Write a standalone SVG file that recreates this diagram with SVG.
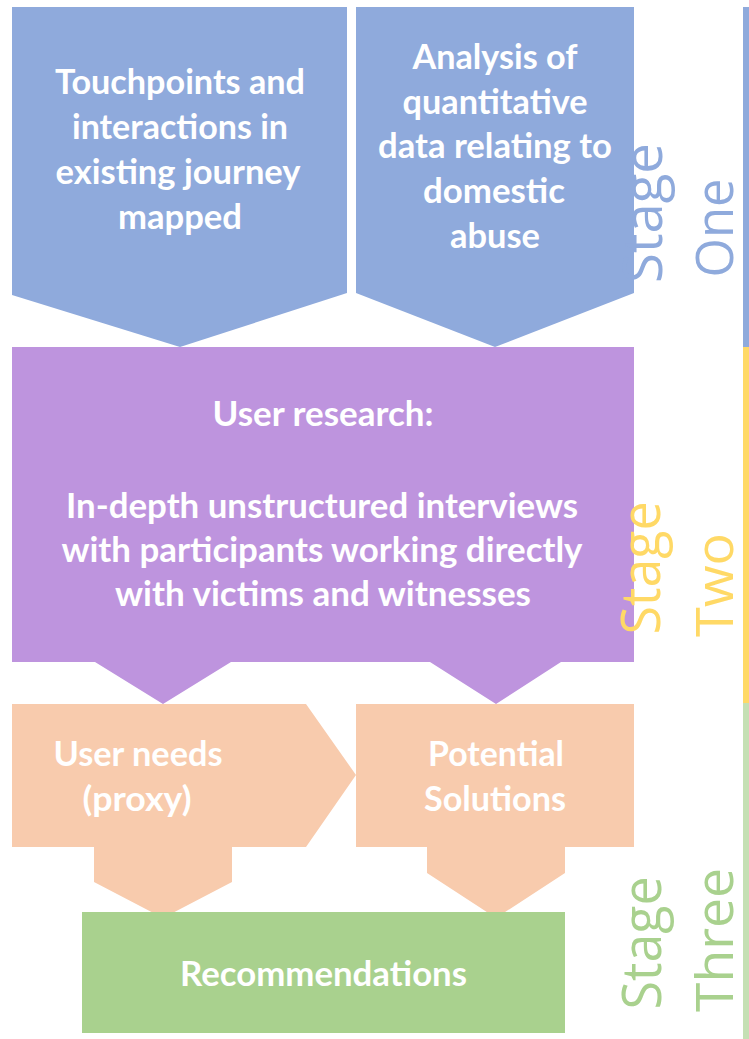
<svg xmlns="http://www.w3.org/2000/svg" width="749" height="1039" viewBox="0 0 749 1039">
  <style>
    .lbl { font-family: Lato, "Open Sans", "Liberation Sans", sans-serif; font-weight: bold; font-size: 35px; fill: #FFFFFF; text-anchor: middle; }
    .stage { font-family: "Open Sans", "DejaVu Sans", sans-serif; font-size: 55px; text-anchor: middle; }
    .stage-num { font-family: "Open Sans", "DejaVu Sans", sans-serif; font-size: 51px; text-anchor: middle; }
    .blue { fill: #8FAADC; }
    .purple { fill: #BE94DE; }
    .orange { fill: #F8CBAD; }
    .green { fill: #A9D18E; }
    .yellow { fill: #FFD966; }
    .green-light { fill: #C5E0B4; }
  </style>

  <!-- Stage one: two chevron boxes pointing down -->
  <g id="n-touchpoints">
    <polygon class="blue" points="12,7 347,7 347,293 180,347 12,295"/>
    <text class="lbl" x="180" y="94" textLength="250" lengthAdjust="spacingAndGlyphs">Touchpoints and</text>
    <text class="lbl" x="180" y="139" textLength="216" lengthAdjust="spacingAndGlyphs">interactions in</text>
    <text class="lbl" x="178" y="184" textLength="245" lengthAdjust="spacingAndGlyphs">existing journey</text>
    <text class="lbl" x="180" y="229" textLength="124" lengthAdjust="spacingAndGlyphs">mapped</text>
  </g>

  <g id="n-analysis">
    <polygon class="blue" points="356,7 634,7 634,293 495,347 356,293"/>
    <text class="lbl" x="495" y="69" textLength="165" lengthAdjust="spacingAndGlyphs">Analysis of</text>
    <text class="lbl" x="495" y="114" textLength="185" lengthAdjust="spacingAndGlyphs">quantitative</text>
    <text class="lbl" x="495" y="158" textLength="234" lengthAdjust="spacingAndGlyphs">data relating to</text>
    <text class="lbl" x="494" y="203" textLength="142" lengthAdjust="spacingAndGlyphs">domestic</text>
    <text class="lbl" x="495" y="248" textLength="90" lengthAdjust="spacingAndGlyphs">abuse</text>
  </g>

  <!-- Stage two: research block with two downward tabs -->
  <g id="n-user-research">
    <polygon class="purple" points="12,347 634,347 634,662 561,662 496,704 430,662 231,662 163,704 95,662 12,662"/>
    <text class="lbl" x="323" y="426" textLength="221" lengthAdjust="spacingAndGlyphs">User research:</text>
    <text class="lbl" x="322" y="518" textLength="512" lengthAdjust="spacingAndGlyphs">In-depth unstructured interviews</text>
    <text class="lbl" x="322" y="562" textLength="521" lengthAdjust="spacingAndGlyphs">with participants working directly</text>
    <text class="lbl" x="323" y="606" textLength="416" lengthAdjust="spacingAndGlyphs">with victims and witnesses</text>
  </g>

  <!-- Stage three -->
  <g id="n-user-needs">
    <polygon class="orange" points="12,704 306,704 356,775 306,847 232,847 232,882 163,918 94,882 94,847 12,847"/>
    <text class="lbl" x="138" y="766" textLength="169" lengthAdjust="spacingAndGlyphs">User needs</text>
    <text class="lbl" x="137" y="811" textLength="109" lengthAdjust="spacingAndGlyphs">(proxy)</text>
  </g>

  <g id="n-solutions">
    <polygon class="orange" points="356,704 634,704 634,847 565,847 565,873 496,918 427,873 427,847 356,847"/>
    <text class="lbl" x="496" y="766" textLength="136" lengthAdjust="spacingAndGlyphs">Potential</text>
    <text class="lbl" x="495" y="811" textLength="142" lengthAdjust="spacingAndGlyphs">Solutions</text>
  </g>

  <g id="n-recommendations">
    <rect class="green" x="82" y="912" width="483" height="121"/>
    <text class="lbl" x="323.5" y="986" textLength="287" lengthAdjust="spacingAndGlyphs">Recommendations</text>
  </g>

  <!-- Vertical stage captions -->
  <g id="stage-labels">
    <text class="stage" fill="#8FAADC" transform="translate(662,213) rotate(-90)" textLength="140" lengthAdjust="spacingAndGlyphs">Stage</text>
    <text class="stage-num" fill="#8FAADC" transform="translate(733,228) rotate(-90)" textLength="99" lengthAdjust="spacingAndGlyphs">One</text>
    <text class="stage" fill="#FFD966" transform="translate(660,568) rotate(-90)" textLength="133" lengthAdjust="spacingAndGlyphs">Stage</text>
    <text class="stage-num" fill="#FFD966" transform="translate(733,585) rotate(-90)" textLength="104" lengthAdjust="spacingAndGlyphs">Two</text>
    <text class="stage" fill="#A9D18E" transform="translate(661,943) rotate(-90)" textLength="133" lengthAdjust="spacingAndGlyphs">Stage</text>
    <text class="stage-num" fill="#A9D18E" transform="translate(733,940) rotate(-90)" textLength="144" lengthAdjust="spacingAndGlyphs">Three</text>
  </g>

  <!-- Stage bars along the right edge -->
  <g id="stage-bars">
    <rect class="blue" x="743" y="7" width="6" height="340"/>
    <rect class="yellow" x="743" y="347" width="6" height="356"/>
    <rect class="green-light" x="743" y="703" width="6" height="336"/>
  </g>
</svg>
